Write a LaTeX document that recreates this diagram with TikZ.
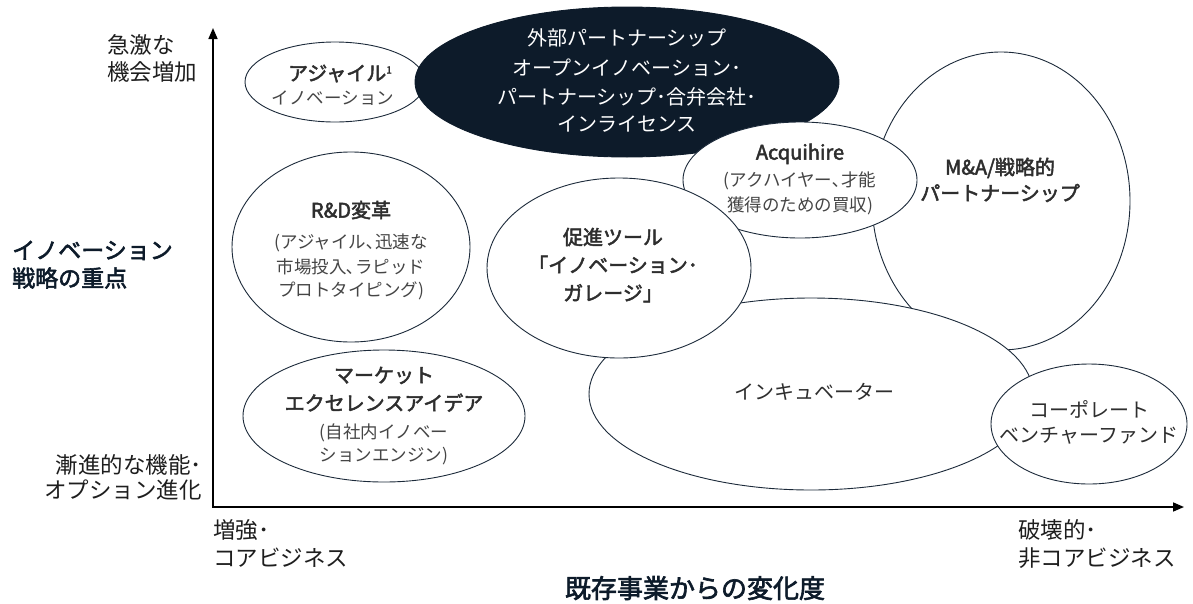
\documentclass[tikz,border=0pt]{standalone}
\usepackage{fontspec}
\setmainfont{Noto Sans CJK JP}
\newfontfamily\semib{Noto Sans CJK JP}[FakeBold=2.4]
\usetikzlibrary{shapes.geometric,arrows.meta}
\definecolor{navy}{HTML}{0D1B2A}
\definecolor{edge}{HTML}{1C2A3A}
\definecolor{txt}{HTML}{2E2E2E}
\definecolor{subtxt}{HTML}{454545}
\definecolor{axtxt}{HTML}{1E1E1E}
\begin{document}
\begin{tikzpicture}[x=1pt,y=-1pt,
  bub/.style={ellipse, draw=edge, line width=0.9pt, fill=white, inner sep=0pt},
  hd/.style={inner sep=0pt, font=\fontsize{20}{24}\selectfont\semib, text=txt, text height=15.2pt, text depth=0pt},
  rg/.style={inner sep=0pt, font=\fontsize{20}{24}\selectfont, text=txt, text height=15.2pt, text depth=0pt},
  wt/.style={inner sep=0pt, font=\fontsize{20}{24}\selectfont, text=white, text height=15.2pt, text depth=0pt},
  sb/.style={inner sep=0pt, font=\fontsize{17.5}{21}\selectfont, text=subtxt, text height=13.3pt, text depth=0pt},
  ax/.style={inner sep=0pt, font=\fontsize{22.5}{27}\selectfont, text=axtxt, text height=17.1pt, text depth=0pt},
  big/.style={inner sep=0pt, font=\fontsize{23}{27}\selectfont\semib, text=navy, text height=17.5pt, text depth=0pt},
  xt/.style={inner sep=0pt, font=\fontsize{26}{30}\selectfont\semib, text=navy, text height=19.8pt, text depth=0pt},
  axis/.style={line width=1.6pt, black, {Triangle[length=11pt,width=9pt]}-{Triangle[length=11pt,width=9pt]}}
]
\useasboundingbox (0,0) rectangle (1193,603);

% axes
\coordinate (ytip) at (213,28);
\coordinate (orig) at (213,507);
\coordinate (xtip) at (1184,507);
\draw[axis] (ytip) -- (orig) -- (xtip);

% bubbles (drawing order matters)
\node[bub, minimum width=180pt, minimum height=80pt] (agile) at (335,82) {};
\node[bub, fill=navy, draw=navy, minimum width=424pt, minimum height=150pt] (ext) at (627,82) {};
\node[bub, minimum width=258pt, minimum height=298pt] (ma) at (1001,201) {};
\node[bub, minimum width=234pt, minimum height=116pt] (acq) at (800,180) {};
\node[bub, minimum width=444pt, minimum height=192pt] (inc) at (811,394) {};
\node[bub, minimum width=264pt, minimum height=180pt] (pro) at (619,268) {};
\node[bub, minimum width=196pt, minimum height=120pt] (cvf) at (1089,424) {};
\node[bub, minimum width=238pt, minimum height=190pt] (rd) at (351,247) {};
\node[bub, minimum width=282pt, minimum height=132pt] (mkt) at (384,416) {};

% texts
\node[hd] (agile1) at (340,73) {アジャイル{\fontsize{10}{10}\selectfont\raisebox{7pt}{1}}};
\node[sb] (agile2) at (333,98) {イノベーション};

\node[wt] (ext1) at (627,38) {外部パートナーシップ};
\node[wt] (ext2) at (627,68) {オープンイノベーション･};
\node[wt] (ext3) at (627,97) {パートナーシップ･合弁会社･};
\node[wt] (ext4) at (627,124) {インライセンス};

\node[hd] (acq1) at (800,152) {Acquihire};
\node[sb] (acq2) at (800,180) {(アクハイヤー､才能};
\node[sb] (acq3) at (800,205) {獲得のための買収)};

\node[hd] (ma1) at (1000,167) {M\&A/戦略的};
\node[hd] (ma2) at (1000,193) {パートナーシップ};

\node[hd] (rd1) at (351,210) {R\&D変革};
\node[sb] (rd2) at (351,242) {(アジャイル､迅速な};
\node[sb] (rd3) at (351,267) {市場投入､ラピッド};
\node[sb] (rd4) at (351,290) {プロトタイピング)};

\node[hd] (pro1) at (613,237) {促進ツール};
\node[hd] (pro2) at (613,265) {「イノベーション･};
\node[hd] (pro3) at (613,293) {ガレージ」};

\node[rg] (inc1) at (814,392) {インキュベーター};

\node[rg] (cvf1) at (1089,410) {コーポレート};
\node[rg] (cvf2) at (1089,435) {ベンチャーファンド};

\node[hd] (mkt1) at (384,375) {マーケット};
\node[hd] (mkt2) at (384,403) {エクセレンスアイデア};
\node[sb] (mkt3) at (384,432) {(自社内イノベー};
\node[sb] (mkt4) at (384,455) {ションエンジン)};

% axis labels
\node[ax, anchor=west] (yhi1) at (107,45) {急激な};
\node[ax, anchor=west] (yhi2) at (107,72) {機会増加};
\node[big, anchor=west] (ytl1) at (12,250) {イノベーション};
\node[big, anchor=west] (ytl2) at (12,278) {戦略の重点};
\node[ax, anchor=east] (ylo1) at (202,465) {漸進的な機能･};
\node[ax, anchor=east] (ylo2) at (202,490) {オプション進化};
\node[ax, anchor=west] (xlo1) at (213,530) {増強･};
\node[ax, anchor=west] (xlo2) at (213,558) {コアビジネス};
\node[ax, anchor=west] (xhi1) at (1018,530) {破壊的･};
\node[ax, anchor=west] (xhi2) at (1018,558) {非コアビジネス};
\node[xt] (xtl) at (695,588) {既存事業からの変化度};
\end{tikzpicture}
\end{document}
